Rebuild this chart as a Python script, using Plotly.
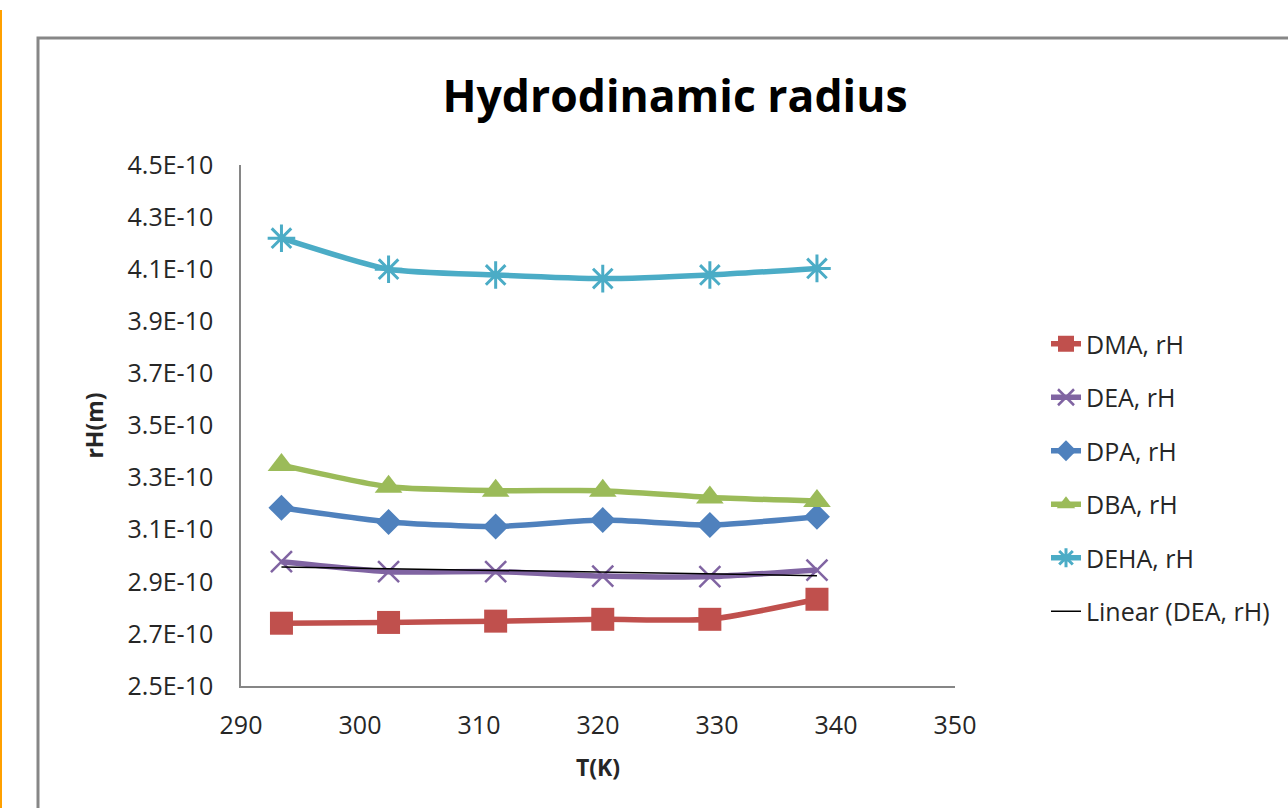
import numpy as np
import plotly.graph_objects as go

# Temperatures (K)
temperature = [293.4, 302.4, 311.4, 320.4, 329.4, 338.4]

# Hydrodynamic radius rH (m) for each amine
dma_rh = [2.741e-10, 2.744e-10, 2.749e-10, 2.756e-10, 2.756e-10, 2.833e-10]
dea_rh = [2.977e-10, 2.939e-10, 2.939e-10, 2.922e-10, 2.920e-10, 2.945e-10]
dpa_rh = [3.184e-10, 3.130e-10, 3.112e-10, 3.137e-10, 3.118e-10, 3.150e-10]
dba_rh = [3.348e-10, 3.265e-10, 3.250e-10, 3.250e-10, 3.224e-10, 3.210e-10]
deha_rh = [4.219e-10, 4.100e-10, 4.078e-10, 4.064e-10, 4.078e-10, 4.103e-10]

# Axis ticks
y_tickvals = [2.5e-10, 2.7e-10, 2.9e-10, 3.1e-10, 3.3e-10, 3.5e-10,
              3.7e-10, 3.9e-10, 4.1e-10, 4.3e-10, 4.5e-10]
y_ticktext = ["2.5E-10", "2.7E-10", "2.9E-10", "3.1E-10", "3.3E-10", "3.5E-10",
              "3.7E-10", "3.9E-10", "4.1E-10", "4.3E-10", "4.5E-10"]
x_tickvals = [290, 300, 310, 320, 330, 340, 350]

FONT = "Open Sans"
TEXT = "#262626"

series = [
    ("DMA, rH", dma_rh, "#C0504D", "square", 23, None),
    ("DEA, rH", dea_rh, "#8064A2", "x-thin", 21, 2.5),
    ("DPA, rH", dpa_rh, "#4F81BD", "diamond", 20, None),
    ("DBA, rH", dba_rh, "#9BBB59", "triangle-up", 24, None),
    ("DEHA, rH", deha_rh, "#4BACC6", "asterisk", 23, 3),
]

fig = go.Figure()
for i, (name, vals, color, symbol, size, lw) in enumerate(series):
    marker = dict(symbol=symbol, size=size, color=color)
    if lw is not None:
        marker["line"] = dict(color=color, width=lw)
    fig.add_trace(go.Scatter(
        x=temperature, y=vals, name=name, mode="lines+markers",
        line=dict(color=color, width=5.5, shape="spline", smoothing=0.6),
        marker=marker, legendgroup=f"g{i}",
    ))

# Linear trendline through the DEA series
slope, intercept = np.polyfit(temperature, dea_rh, 1)
trend_x = [temperature[0], temperature[-1]]
trend_y = [slope * t + intercept for t in trend_x]
fig.add_trace(go.Scatter(
    x=trend_x, y=trend_y, name="Linear (DEA, rH)", mode="lines",
    line=dict(color="black", width=1.5), legendgroup="g5",
))

fig.update_layout(
    width=1288, height=808,
    margin=dict(l=241, r=333, t=165, b=122),
    paper_bgcolor="white", plot_bgcolor="white",
    font=dict(family=FONT, size=25, color=TEXT),
    title=dict(text="<b>Hydrodinamic radius</b>", x=675 / 1288, xanchor="center",
               y=1 - 96 / 808, yanchor="middle",
               font=dict(family=FONT, size=44.5, color="black")),
    showlegend=True,
    legend=dict(x=1046 / 1288, xref="container", y=1 - 321 / 808, yref="container",
                xanchor="left", yanchor="top", tracegroupgap=18,
                font=dict(family=FONT, size=25, color=TEXT),
                bgcolor="rgba(0,0,0,0)"),
    xaxis=dict(range=[290, 350], tickvals=x_tickvals, showgrid=False,
               zeroline=False, showline=True, linecolor="#868686", linewidth=1.5,
               ticks="", ticklabelstandoff=16,
               title=dict(text="<b>T(K)</b>", standoff=20,
                          font=dict(family=FONT, size=23, color=TEXT))),
    yaxis=dict(range=[2.5e-10, 4.5e-10], tickvals=y_tickvals, ticktext=y_ticktext,
               showgrid=False, zeroline=False, showline=True, linecolor="#868686",
               linewidth=1.5, ticks="", ticklabelstandoff=21,
               title=dict(text="<b>rH(m)</b>", standoff=18,
                          font=dict(family=FONT, size=23, color=TEXT))),
    shapes=[
        # chart frame
        dict(type="rect", xref="paper", yref="paper", layer="below",
             x0=(38 - 241) / 714, x1=(1300 - 241) / 714,
             y0=(686 - 820) / 521, y1=(686 - 38) / 521,
             line=dict(color="#878787", width=3), fillcolor="rgba(0,0,0,0)"),
        # orange page edge
        dict(type="line", xref="paper", yref="paper",
             x0=(1 - 241) / 714, x1=(1 - 241) / 714,
             y0=(686 - 820) / 521, y1=(686 - 10) / 521,
             line=dict(color="#FFA000", width=2)),
    ],
)

fig.write_html("out.html")
